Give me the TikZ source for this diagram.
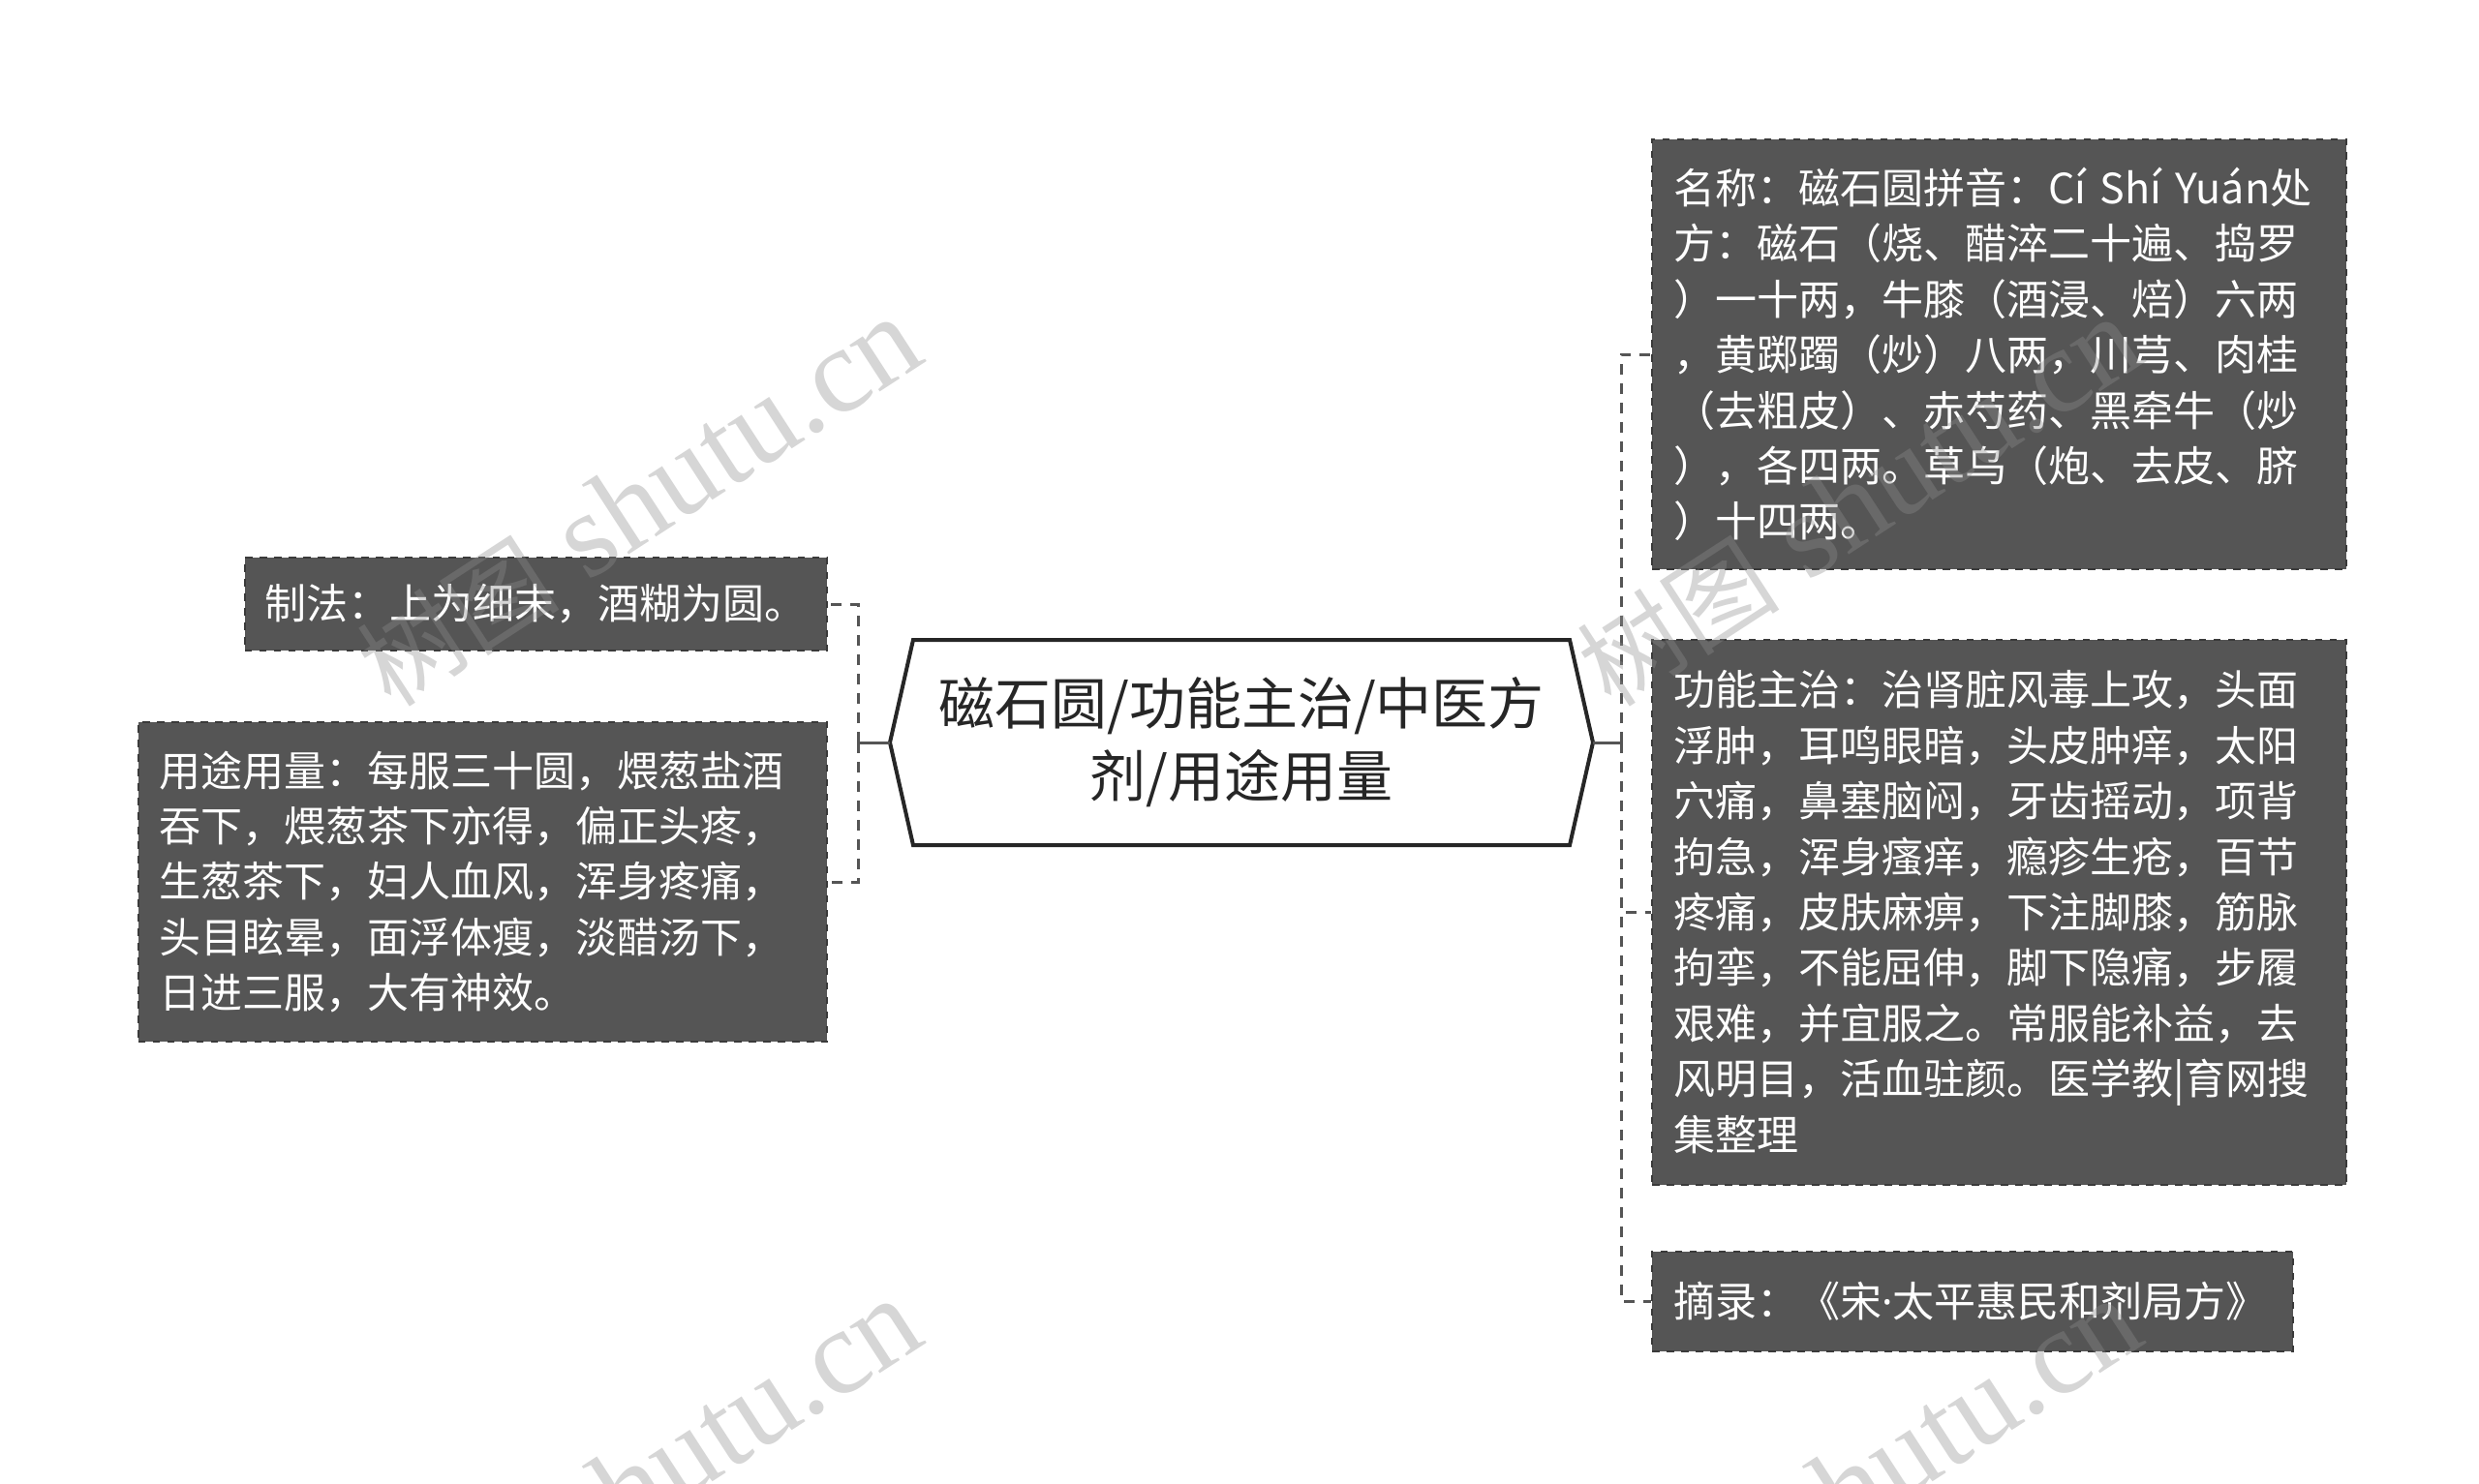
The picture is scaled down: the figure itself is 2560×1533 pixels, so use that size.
\documentclass[tikz,border=0pt]{standalone}
\usepackage{fontspec}
\setmainfont{Noto Sans CJK SC}
\newfontfamily\wmlatin{Liberation Serif}
\newfontfamily\wmhan{Noto Sans CJK SC}
\newfontfamily\dotfont{Noto Sans}
\usepackage{xcolor}
\usepackage{tikz}
\usetikzlibrary{calc}
\definecolor{leafbg}{HTML}{555555}
\definecolor{leafrim}{HTML}{3A3A3A}
\definecolor{wire}{HTML}{555555}
\definecolor{ink}{HTML}{262626}
\definecolor{wmgray}{HTML}{8D8D8D}
\tikzset{
  leaf/.style={rectangle, fill=leafbg, draw=leafrim, dashed, line width=0.8pt, text=white, align=left, inner xsep=8.8pt, inner ysep=0pt, font=\fontsize{17.2pt}{22.96pt}\selectfont},
  hub/.style={rectangle, draw=none, align=center, text=ink, inner sep=0pt, minimum width=290pt, minimum height=84.4pt, font=\fontsize{23.2pt}{30pt}\selectfont},
  hubline/.style={draw=ink, line width=1.6pt, line join=miter},
  link/.style={draw=wire, line width=1.2pt},
  branch/.style={draw=wire, line width=1.2pt, dash pattern=on 4.4pt off 3.6pt},
  wmark/.style={text=wmgray, opacity=0.36, rotate=33, inner sep=0pt, font=\wmlatin\fontsize{50pt}{50pt}\selectfont},
}
\begin{document}
\begin{tikzpicture}[x=0.4pt, y=-0.4pt]
  \useasboundingbox (0,0) rectangle (2560,1533);
  \node[hub] (hub) at (1282,767) {磁石圆/功能主治/中医方\\剂/用途用量};
  \draw[hubline] (hub.west) -- ([xshift=9.6pt]hub.north west) -- ([xshift=-9.6pt]hub.north east) -- (hub.east) -- ([xshift=-9.6pt]hub.south east) -- ([xshift=9.6pt]hub.south west) -- cycle;

  \node[leaf, inner xsep=8.2pt, text width=224pt, minimum height=38.4pt, anchor=east] (make) at (855,624) {制法：上为细末，酒糊为圆。};
  \node[leaf, text width=266.8pt, minimum height=132pt, anchor=east] (dose) at (855,911) {用途用量：每服三十圆，煨葱盐酒\\吞下，煨葱茶下亦得，偏正头疼，\\生葱茶下，妇人血风，浑身疼痛，\\头目眩晕，面浮体瘦，淡醋汤下，\\日进三服，大有神效。};

  \node[leaf, text width=269.2pt, minimum height=177.6pt, anchor=west] (name) at (1705,366) {名称：磁石圆拼音：Cí Shí Yuán处\\方：磁石（烧、醋淬二十遍、捣罗\\）一十两，牛膝（酒浸、焙）六两\\，黄踯躅（炒）八两，川芎、肉桂\\（去粗皮）、赤芍药、黑牵牛（炒\\），各四两。草乌（炮、去皮、脐\\）十四两。};
  \node[leaf, text width=269.2pt, minimum height=225.2pt, anchor=west] (cure) at (1705,942) {功能主治：治肾脏风毒上攻，头面\\浮肿，耳鸣眼暗，头皮肿痒，太阳\\穴痛，鼻塞脑闷，牙齿摇动，项背\\拘急，浑身瘙痒，瘾疹生疮，百节\\疼痛，皮肤麻痹，下注脚膝，筋脉\\拘挛，不能屈伸，脚下隐痛，步履\\艰难，并宜服之。常服能补益，去\\风明目，活血驻颜。医学教|育网搜\\集整理};
  \node[leaf, text width=247pt, minimum height=41.2pt, anchor=west] (source) at (1705,1344) {摘录：《宋{\dotfont ·}太平惠民和剂局方》};

  \coordinate (forkL) at (886,767);
  \coordinate (forkR) at (1674,767);
  \draw[link] (hub.west) -- (forkL);
  \draw[branch] (forkL) |- (make.east);
  \draw[branch] (forkL) |- (dose.east);
  \draw[link] (hub.east) -- (forkR);
  \draw[branch] (forkR) |- (name.west);
  \draw[branch] (forkR) |- (cure.west);
  \draw[branch] (forkR) |- (source.west);

  \foreach \wx in {660,1920}
    \foreach \wy in {519,1533}
      \node[wmark] at (\wx,\wy) {{\wmhan\fontsize{42pt}{42pt}\selectfont 树图} shutu.cn};
\end{tikzpicture}
\end{document}
